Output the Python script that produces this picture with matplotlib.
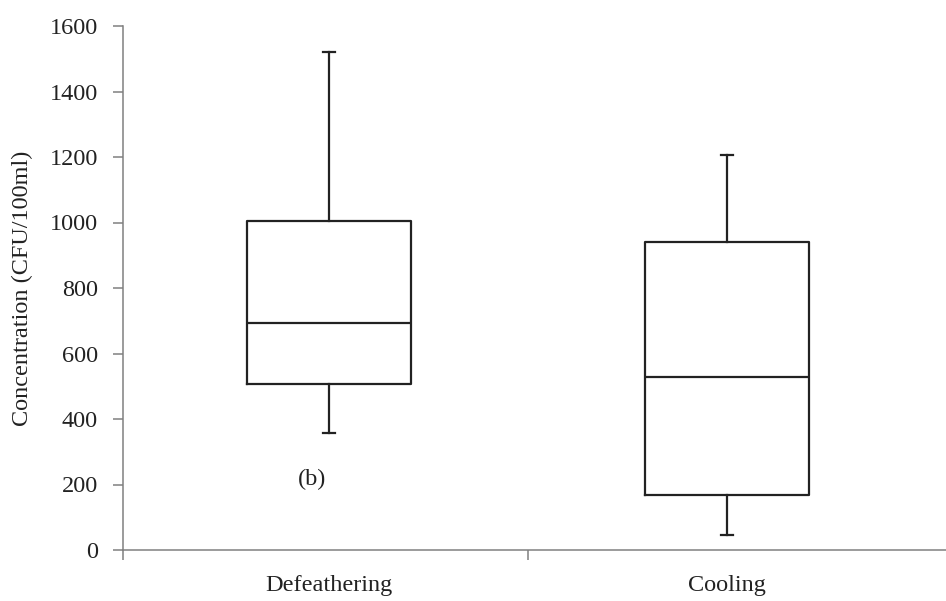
import matplotlib
matplotlib.use("Agg")
import matplotlib.pyplot as plt

categories = ["Defeathering", "Cooling"]
whisker_low = [358, 46]
q1 = [507, 168]
median = [694, 527]
q3 = [1005, 940]
whisker_high = [1522, 1207]
yticks = [0, 200, 400, 600, 800, 1000, 1200, 1400, 1600]

plt.rcParams['font.family'] = ['Liberation Serif', 'DejaVu Serif']

fig = plt.figure(figsize=(9.46, 6.01), dpi=100)
ax = fig.add_axes([123/946, 51/601, 1 - 123/946, (550-26)/601])

stats = []
for i, c in enumerate(categories):
    stats.append(dict(label=c, whislo=whisker_low[i], q1=q1[i], med=median[i],
                      q3=q3[i], whishi=whisker_high[i], fliers=[]))

box_col = "#222222"
lw = 1.6
ax.bxp(stats, positions=[0, 1], widths=0.41, showfliers=False,
       boxprops=dict(color=box_col, linewidth=lw),
       medianprops=dict(color=box_col, linewidth=lw),
       whiskerprops=dict(color=box_col, linewidth=lw),
       capprops=dict(color=box_col, linewidth=lw),
       capwidths=0.03)

ax.set_xlim(-0.5176, 1.55)
ax.set_ylim(0, 1600)

for s in ['top', 'right']:
    ax.spines[s].set_visible(False)
for s in ['left', 'bottom']:
    ax.spines[s].set_color("#808080")
    ax.spines[s].set_linewidth(1.1)

ax.set_yticks(yticks)
ax.tick_params(axis='y', direction='out', length=7, width=1.1, color="#808080",
               pad=11, labelsize=17.5, labelcolor="#222222")

ax.set_xticks([-0.5176, 0.5])
ax.set_xticklabels(["", ""])
ax.set_xticks([0, 1], minor=True)
ax.set_xticklabels(categories, minor=True)
ax.tick_params(axis='x', which='major', direction='out', length=7, width=1.1, color="#808080")
ax.tick_params(axis='x', which='minor', length=0, pad=18, labelsize=17.5, labelcolor="#222222")

ax.set_ylabel("Concentration (CFU/100ml)", fontsize=17.5, color="#222222", labelpad=12)

ax.text(-0.043, 214, "(b)", fontsize=17.5, ha='center', va='center', color="#222222")

fig.savefig("out.png", dpi=100)
